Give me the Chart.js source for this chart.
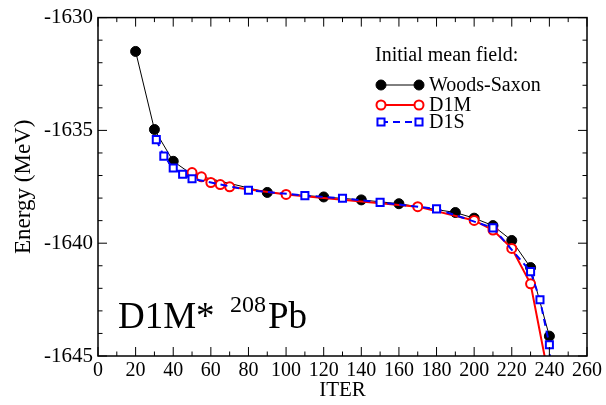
<!DOCTYPE html>
<html>
<head>
<meta charset="utf-8">
<script src="https://cdn.jsdelivr.net/npm/chart.js@4/dist/chart.umd.min.js"></script>
<style>
  html, body { margin: 0; padding: 0; background: #fff; }
  #wrap { width: 606px; height: 405px; }
</style>
</head>
<body>
<div id="wrap"><canvas id="energyChart" width="606" height="405"></canvas></div>
<script>
// Woods-Saxon start
const wsIter = [20, 30, 40, 50, 90, 120, 140, 160, 190, 200, 210, 220, 230, 240];
const wsEnergy = [-1631.5, -1634.96, -1636.37, -1636.95, -1637.75, -1637.95, -1638.08, -1638.25,
    -1638.64, -1638.89, -1639.22, -1639.88, -1641.08, -1644.12];

// D1M start
const d1mIter = [50, 55, 60, 65, 70, 100, 170, 200, 210, 220, 230, 240];
const d1mEnergy = [-1636.87, -1637.06, -1637.31, -1637.40, -1637.50, -1637.84, -1638.38, -1638.99,
    -1639.42, -1640.23, -1641.8, -1646.1];

// D1S start
const d1sIter = [31, 35, 40, 45, 50, 80, 110, 130, 150, 180, 210, 230, 235, 240, 250];
const d1sEnergy = [-1635.41, -1636.14, -1636.67, -1636.94, -1637.14, -1637.65, -1637.89, -1638.01,
    -1638.19, -1638.48, -1639.32, -1641.26, -1642.51, -1644.5, -1665];

const xTicks = [0, 20, 40, 60, 80, 100, 120, 140, 160, 180, 200, 220, 240, 260];
const yTicks = [-1645, -1640, -1635, -1630];

const serif = '"Liberation Serif", "DejaVu Serif", serif';

function toPoints(xs, ys) {
    return xs.map((x, i) => ({ x: x, y: ys[i] }));
}

// box round the plot with inward major/minor ticks on all four sides
const frameTicks = {
    id: 'frameTicks',
    afterDraw(chart) {
        const { ctx, chartArea: a, scales } = chart;
        ctx.save();
        ctx.strokeStyle = '#000';
        ctx.lineWidth = 1;
        ctx.beginPath();
        const xs = scales.x, ys = scales.y;
        for (let i = 0; i < xTicks.length; i++) {
            const px = xs.getPixelForValue(xTicks[i]);
            ctx.moveTo(px, a.bottom); ctx.lineTo(px, a.bottom - 9);
            ctx.moveTo(px, a.top); ctx.lineTo(px, a.top + 9);
            if (i < xTicks.length - 1) {
                const pm = xs.getPixelForValue((xTicks[i] + xTicks[i + 1]) / 2);
                ctx.moveTo(pm, a.bottom); ctx.lineTo(pm, a.bottom - 4.5);
                ctx.moveTo(pm, a.top); ctx.lineTo(pm, a.top + 4.5);
            }
        }
        for (let i = 0; i < yTicks.length; i++) {
            const py = ys.getPixelForValue(yTicks[i]);
            ctx.moveTo(a.left, py); ctx.lineTo(a.left + 9, py);
            ctx.moveTo(a.right, py); ctx.lineTo(a.right - 9, py);
            if (i < yTicks.length - 1) {
                for (let k = 1; k < 5; k++) {
                    const pm = ys.getPixelForValue(yTicks[i] + k * (yTicks[i + 1] - yTicks[i]) / 5);
                    ctx.moveTo(a.left, pm); ctx.lineTo(a.left + 4.5, pm);
                    ctx.moveTo(a.right, pm); ctx.lineTo(a.right - 4.5, pm);
                }
            }
        }
        ctx.stroke();
        ctx.lineWidth = 1.5;
        ctx.strokeRect(a.left, a.top, a.right - a.left, a.bottom - a.top);
        ctx.restore();
    }
};

// legend: title line, then a line sample with a marker at each end
const sideLegend = {
    id: 'sideLegend',
    afterDraw(chart) {
        const ctx = chart.ctx;
        ctx.save();
        ctx.fillStyle = '#000';
        ctx.textBaseline = 'middle';
        ctx.font = '20px ' + serif;
        ctx.fillText('Initial mean field:', 375, 56);
        const rows = [85, 105, 122];
        chart.data.datasets.forEach((ds, i) => {
            const y = rows[i];
            ctx.save();
            ctx.strokeStyle = ds.borderColor;
            ctx.lineWidth = ds.borderWidth;
            ctx.setLineDash(ds.borderDash || []);
            ctx.beginPath();
            ctx.moveTo(381, y); ctx.lineTo(419, y);
            ctx.stroke();
            ctx.restore();
            const style = {
                pointStyle: ds.pointStyle, radius: ds.pointRadius, rotation: 0,
                borderWidth: ds.pointBorderWidth
            };
            ctx.save();
            ctx.fillStyle = ds.pointBackgroundColor;
            ctx.strokeStyle = ds.borderColor;
            ctx.lineWidth = ds.pointBorderWidth;
            Chart.helpers.drawPoint(ctx, style, 381, y);
            Chart.helpers.drawPoint(ctx, style, 419, y);
            ctx.restore();
            ctx.fillStyle = '#000';
            ctx.fillText(ds.label, 429, y + 1);
        });
        ctx.restore();
    }
};

// "D1M* 208Pb" in the lower left of the plot
const nucleusLabel = {
    id: 'nucleusLabel',
    afterDraw(chart) {
        const ctx = chart.ctx;
        ctx.save();
        ctx.fillStyle = '#000';
        ctx.textBaseline = 'alphabetic';
        ctx.font = '37px ' + serif;
        ctx.fillText('D1M*', 118, 328);
        ctx.font = '24px ' + serif;
        ctx.fillText('208', 230, 312);
        ctx.font = '37px ' + serif;
        ctx.fillText('Pb', 268, 328);
        ctx.restore();
    }
};

new Chart(document.getElementById('energyChart').getContext('2d'), {
    type: 'scatter',
    data: {
        datasets: [
            {
                label: 'Woods-Saxon',
                data: toPoints(wsIter, wsEnergy),
                showLine: true,
                borderColor: '#000',
                backgroundColor: '#000',
                pointBackgroundColor: '#000',
                borderWidth: 1,
                pointStyle: 'circle',
                pointRadius: 5,
                pointBorderWidth: 1,
                order: 3
            },
            {
                label: 'D1M',
                data: toPoints(d1mIter, d1mEnergy),
                showLine: true,
                borderColor: '#ff0000',
                backgroundColor: '#fff',
                pointBackgroundColor: '#fff',
                borderWidth: 2,
                pointStyle: 'circle',
                pointRadius: 4.5,
                pointBorderWidth: 2,
                order: 2
            },
            {
                label: 'D1S',
                data: toPoints(d1sIter, d1sEnergy),
                showLine: true,
                borderColor: '#0000ff',
                backgroundColor: '#fff',
                pointBackgroundColor: '#fff',
                borderWidth: 2,
                borderDash: [7, 5],
                pointStyle: 'rect',
                pointRadius: 5,
                pointBorderWidth: 2,
                order: 1
            }
        ]
    },
    options: {
        responsive: false,
        animation: false,
        events: [],
        layout: { padding: { top: 14, right: 19, left: 0, bottom: 0 } },
        plugins: {
            legend: { display: false },
            tooltip: { enabled: false }
        },
        scales: {
            x: {
                type: 'linear',
                min: 0,
                max: 260,
                afterBuildTicks: s => { s.ticks = xTicks.map(v => ({ value: v })); },
                afterFit: s => { s.height = 49; },
                grid: { display: false, drawTicks: false },
                border: { display: false },
                ticks: {
                    color: '#000', padding: 3, maxRotation: 0,
                    font: { family: serif, size: 20 },
                    callback: v => String(v)
                },
                title: {
                    display: true, text: 'ITER', color: '#000',
                    font: { family: serif, size: 21 }, padding: { top: 0, bottom: 2 }
                }
            },
            y: {
                type: 'linear',
                min: -1645,
                max: -1630,
                afterBuildTicks: s => { s.ticks = yTicks.map(v => ({ value: v })); },
                afterFit: s => { s.width = 98; },
                grid: { display: false, drawTicks: false },
                border: { display: false },
                ticks: {
                    color: '#000', padding: 5,
                    font: { family: serif, size: 21 },
                    callback: v => String(v)
                },
                title: {
                    display: true, text: 'Energy (MeV)', color: '#000',
                    font: { family: serif, size: 23 }, padding: { top: 10, bottom: 0 }
                }
            }
        }
    },
    plugins: [frameTicks, sideLegend, nucleusLabel]
});
</script>
</body>
</html>
